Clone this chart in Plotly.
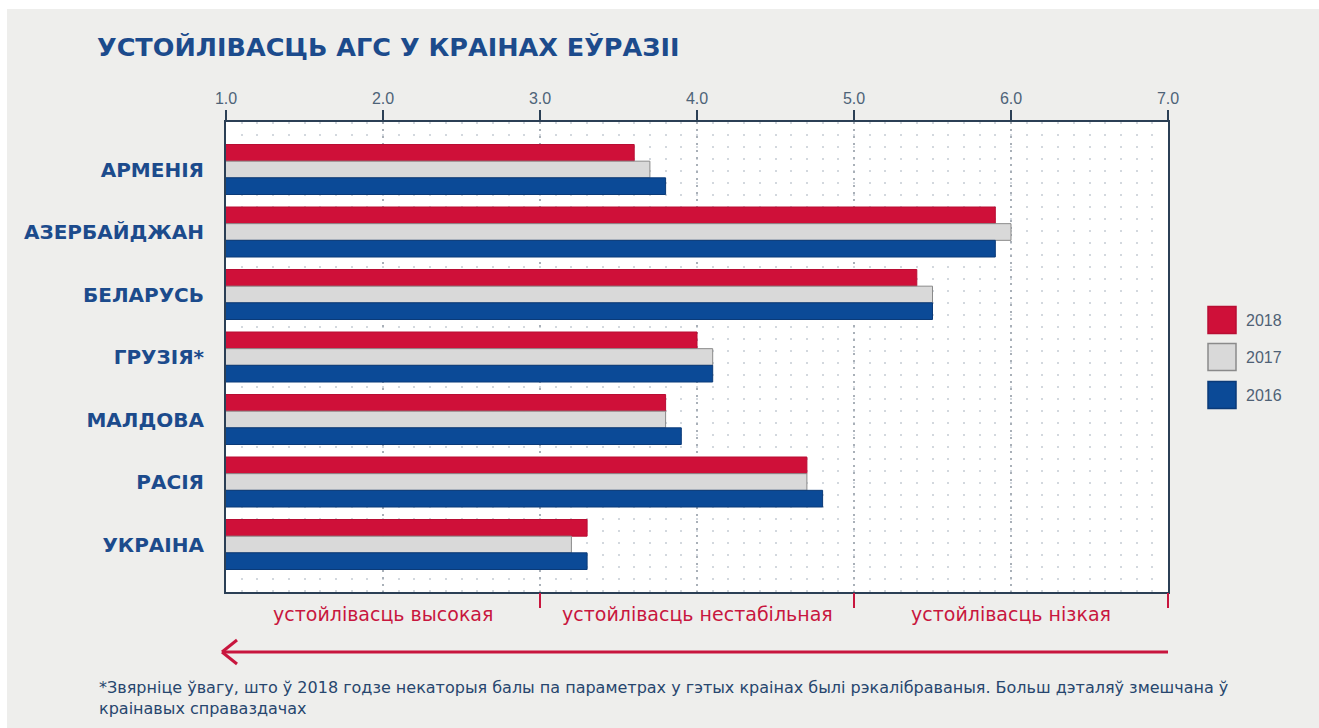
import plotly.graph_objects as go

countries = ["АРМЕНІЯ", "АЗЕРБАЙДЖАН", "БЕЛАРУСЬ", "ГРУЗІЯ*", "МАЛДОВА", "РАСІЯ", "УКРАІНА"]
years = ["2018", "2017", "2016"]
v2018 = [3.6, 5.9, 5.4, 4.0, 3.8, 4.7, 3.3]
v2017 = [3.7, 6.0, 5.5, 4.1, 3.8, 4.7, 3.2]
v2016 = [3.8, 5.9, 5.5, 4.1, 3.9, 4.8, 3.3]
x_ticks = [1, 2, 3, 4, 5, 6, 7]
x_tick_labels = ["1.0", "2.0", "3.0", "4.0", "5.0", "6.0", "7.0"]
zone_centers = [2, 4, 6]
zone_bounds = [3, 5, 7]
zone_labels = ["устойлівасць высокая", "устойлівасць нестабільная", "устойлівасць нізкая"]
title_text = "УСТОЙЛІВАСЦЬ АГС У КРАІНАХ ЕЎРАЗІІ"
footnote = ("*Звярніце ўвагу, што ў 2018 годзе некаторыя балы па параметрах у гэтых краінах былі "
            "рэкалібраваныя. Больш дэталяў змешчана ў<br>краінавых справаздачах")

fills = ["#cf1039", "#d9d9d9", "#0b4a97"]
edges = ["#b80d33", "#8a8a8a", "#0a3a78"]
series = [v2018, v2017, v2016]

RED = "#c8163e"
NAVY = "#1c4b8c"
AXIS = "#2b3f55"
BG = "#eeeeec"

# body margin is removed by the post script, so page pixels == figure pixels
OFF = 0
W, H = 1319, 728
L, T = 226 - OFF, 122 - OFF
R = W - (1168 - OFF)
B = H - (592 - OFF)
PW, PH = W - L - R, H - T - B

def px(xp):
    return (xp - OFF - L) / PW

def py(yp):
    return (H - B - (yp - OFF)) / PH

fig = go.Figure()
for name, vals, fc, ec in zip(years, series, fills, edges):
    fig.add_trace(go.Bar(
        y=countries, x=vals, name=name, orientation="h",
        marker=dict(color=fc, line=dict(color=ec, width=1)),
        showlegend=False,
    ))

# invisible trace carrying the bottom zone-boundary axis
fig.add_trace(go.Scatter(x=[1, 7], y=[countries[0], countries[0]], xaxis="x2",
                         mode="markers", marker=dict(opacity=0), showlegend=False,
                         hoverinfo="skip"))

fig.update_layout(
    width=W, height=H,
    margin=dict(l=L, r=R, t=T, b=B),
    paper_bgcolor=BG,
    plot_bgcolor="#ffffff",
    barmode="group",
    bargap=0.2,
    bargroupgap=0,
    font=dict(family="Liberation Sans, Arial, sans-serif"),
    title=dict(text=title_text, x=(97 - OFF) / W, xanchor="left",
               y=1 - (47 - OFF) / H, yanchor="middle",
               font=dict(size=25.5, color=NAVY, family="DejaVu Sans, sans-serif",
                         weight="bold")),
    xaxis=dict(
        side="top", range=[1, 7], tickvals=x_ticks, ticktext=x_tick_labels,
        ticks="outside", ticklen=10, tickwidth=2, tickcolor=AXIS,
        tickfont=dict(size=16, color="#4d6378"),
        showline=True, linecolor=AXIS, linewidth=2, mirror=True,
        showgrid=True, gridcolor="#a9b0b8", gridwidth=1.5, griddash="2px,5px",
        minor=dict(dtick=0.1, showgrid=True, gridcolor="#d3d8de", gridwidth=1.5,
                   griddash="1.5px,10.5px", ticks=""),
        zeroline=False, fixedrange=True,
    ),
    xaxis2=dict(
        overlaying="x", anchor="y", side="bottom", range=[1, 7], tickvals=zone_bounds,
        ticks="outside", ticklen=15, tickwidth=2, tickcolor=RED,
        showticklabels=False, showgrid=False, showline=False, zeroline=False,
    ),
    yaxis=dict(
        categoryorder="array", categoryarray=countries,
        range=[len(countries) - 0.24, -0.76],
        ticks="outside", ticklen=16, tickcolor="rgba(0,0,0,0)",
        tickfont=dict(size=20, color=NAVY, weight="bold", family="DejaVu Sans, sans-serif"),
        showline=True, linecolor=AXIS, linewidth=2, mirror=True,
        showgrid=False, zeroline=False,
    ),
)

ann = []
for xc, lab in zip(zone_centers, zone_labels):
    ann.append(dict(x=xc, xref="x", y=py(614), yref="paper", text=lab, showarrow=False,
                    xanchor="center", yanchor="middle",
                    font=dict(size=19, color=RED, family="DejaVu Sans, sans-serif")))
ann.append(dict(x=px(97), xref="paper", y=py(676), yref="paper", text=footnote, showarrow=False,
                xanchor="left", yanchor="top", align="left",
                font=dict(size=16, color="#27466e", family="DejaVu Sans, sans-serif")))

shapes = [
    # thin white border strips of the original picture
    dict(type="rect", xref="paper", yref="paper", x0=px(0), x1=px(7), y0=py(H), y1=py(0),
         fillcolor="#ffffff", line=dict(width=0), layer="below"),
    dict(type="rect", xref="paper", yref="paper", x0=px(0), x1=px(W), y0=py(9), y1=py(0),
         fillcolor="#ffffff", line=dict(width=0), layer="below"),
    # arrow
    dict(type="line", xref="paper", yref="paper", x0=px(223), x1=1.0, y0=py(652), y1=py(652),
         line=dict(color=RED, width=3)),
    dict(type="line", xref="paper", yref="paper", x0=px(222), x1=px(237), y0=py(652), y1=py(640),
         line=dict(color=RED, width=3)),
    dict(type="line", xref="paper", yref="paper", x0=px(222), x1=px(237), y0=py(652), y1=py(664),
         line=dict(color=RED, width=3)),
]

# manual legend
legend_centers = [320, 357, 395]
for name, fc, ec, yc in zip(years, fills, edges, legend_centers):
    shapes.append(dict(type="rect", xref="paper", yref="paper",
                       x0=px(1208), x1=px(1236), y0=py(yc + 13.5), y1=py(yc - 13.5),
                       fillcolor=fc, line=dict(color=ec, width=1.5)))
    ann.append(dict(x=px(1244), xref="paper", y=py(yc), yref="paper", text=name,
                    showarrow=False, xanchor="left", yanchor="middle",
                    font=dict(size=16, color="#4f6175")))

fig.update_layout(annotations=ann, shapes=shapes)

page_css = ("document.body.style.margin = '0';"
            "document.body.style.backgroundColor = '" + BG + "';")
fig.write_html("out.html", post_script=page_css, config={"displayModeBar": False})
